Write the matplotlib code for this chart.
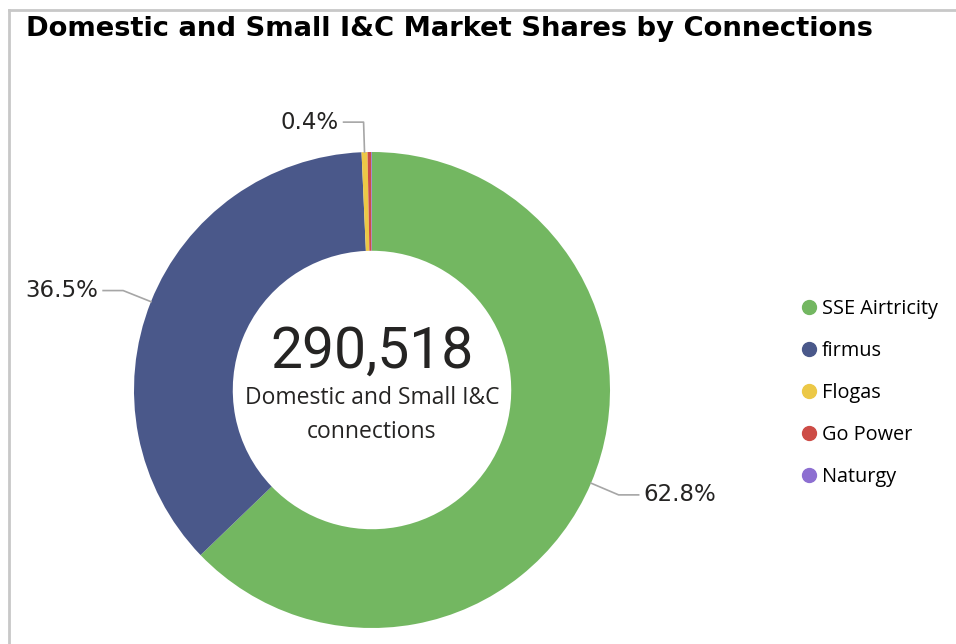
import numpy as np
import matplotlib.pyplot as plt
from matplotlib.lines import Line2D

# Datos del gráfico (porcentajes)
suppliers = ['SSE Airtricity', 'firmus', 'Flogas', 'Go Power', 'Naturgy']
shares = [62.8, 36.5, 0.4, 0.25, 0.05]
colors = ['#73B761', '#4A588A', '#ECC846', '#CD4C46', '#8D6FD1']
total_connections = 290518
show_label = [True, True, True, False, False]

W, H = 956, 644
fig = plt.figure(figsize=(W / 100, H / 100), dpi=100)
ax = fig.add_axes([0, 0, 1, 1])

# Centro y radio del donut en pixeles
cx, cy = 372, H - 390
R = 238
ax.pie(shares, colors=colors, startangle=90, counterclock=False,
       center=(cx, cy), radius=R, frame=True,
       wedgeprops=dict(width=R * 0.415, linewidth=0))
ax.set_xlim(0, W)
ax.set_ylim(0, H)
ax.set_aspect('equal')
ax.axis('off')

# Etiquetas con líneas guía
total = sum(shares)
start = 90.0
for val, show in zip(shares, show_label):
    span = 360.0 * val / total
    mid = np.deg2rad(start - span / 2)
    start -= span
    if not show:
        continue
    c, s = np.cos(mid), np.sin(mid)
    p0 = (cx + R * c, cy + R * s)
    p1 = (cx + (R + 30) * c, cy + (R + 30) * s)
    side = 1 if c > 0.05 else -1
    p2 = (p1[0] + side * 20, p1[1])
    ax.plot([p0[0], p1[0], p2[0]], [p0[1], p1[1], p2[1]], color='#a6a6a6', lw=1.2)
    ax.text(p2[0] + side * 5, p2[1], f'{val:.1f}%', ha='left' if side > 0 else 'right',
            va='center', fontsize=16.5, family='DejaVu Sans', color='#252423')

# Texto central
ax.text(cx, cy + 38, f'{total_connections:,}', ha='center', va='center',
        fontsize=41, family='Roboto', color='#252423')
ax.text(cx, cy - 8, 'Domestic and Small I&C', ha='center', va='center',
        fontsize=16.5, family='Open Sans', color='#252423')
ax.text(cx, cy - 42, 'connections', ha='center', va='center',
        fontsize=16.5, family='Open Sans', color='#252423')

# Leyenda
handles = [Line2D([], [], marker='o', ls='none', markersize=10,
                  markerfacecolor=col, markeredgecolor=col) for col in colors]
ax.legend(handles, suppliers, loc='upper left', bbox_to_anchor=(795 / W, 1 - 291 / H),
          frameon=False, handlelength=0.6, handletextpad=0.35, labelspacing=1.11,
          borderaxespad=0, prop={'family': 'Open Sans', 'size': 14.3})

# Título y marco
fig.text(26 / W, 1 - 29 / H, 'Domestic and Small I&C Market Shares by Connections',
         ha='left', va='center', fontsize=19.7, fontweight='bold', family='DejaVu Sans')
ax.plot([9, W], [H - 10, H - 10], color='#c8c8c8', lw=2, clip_on=False)
ax.plot([9, 9], [H - 10, 0], color='#c8c8c8', lw=2, clip_on=False)

fig.savefig('out.png', dpi=100)
